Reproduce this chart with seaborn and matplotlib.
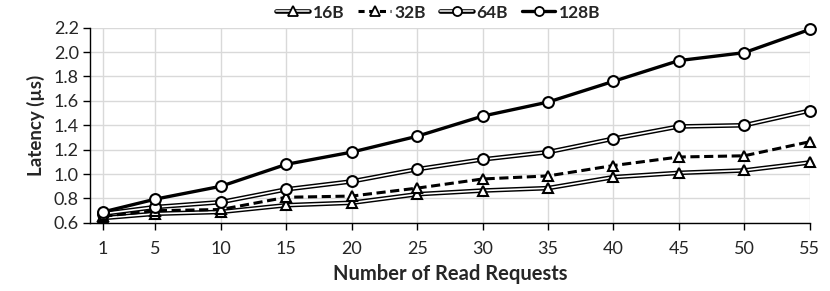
import matplotlib
matplotlib.use("Agg")
import matplotlib.pyplot as plt
import seaborn as sns
import pandas as pd
from matplotlib.lines import Line2D
from matplotlib.legend_handler import HandlerTuple

requests = [1, 5, 10, 15, 20, 25, 30, 35, 40, 45, 50, 55]
lat_16b = [0.64, 0.675, 0.69, 0.745, 0.765, 0.835, 0.865, 0.885, 0.975, 1.01, 1.03, 1.095]
lat_32b = [0.655, 0.70, 0.71, 0.81, 0.82, 0.885, 0.96, 0.985, 1.07, 1.14, 1.15, 1.265]
lat_64b = [0.675, 0.73, 0.77, 0.875, 0.94, 1.04, 1.12, 1.18, 1.29, 1.39, 1.40, 1.52]
lat_128b = [0.69, 0.795, 0.90, 1.08, 1.18, 1.31, 1.475, 1.59, 1.76, 1.93, 1.995, 2.185]
series_names = ["16B", "32B", "64B", "128B"]
xticks = [1, 5, 10, 15, 20, 25, 30, 35, 40, 45, 50, 55]
yticks = [0.6, 0.8, 1.0, 1.2, 1.4, 1.6, 1.8, 2.0, 2.2]

df = pd.DataFrame({
    "Requests": requests * 4,
    "Latency": lat_16b + lat_32b + lat_64b + lat_128b,
    "Size": sum([[n] * len(requests) for n in series_names], []),
})

sns.set_theme(style="white")
plt.rcParams["font.family"] = ["Lato", "DejaVu Sans"]

fig = plt.figure(figsize=(8.3, 2.91), dpi=100)
ax = fig.add_axes([0.1085, 0.234, 0.867, 0.671])

styles = {
    "16B": dict(marker="^", double=True, dashes=False, lw=1.0),
    "32B": dict(marker="^", double=False, dashes=True, lw=2.2),
    "64B": dict(marker="o", double=True, dashes=False, lw=1.0),
    "128B": dict(marker="o", double=False, dashes=False, lw=2.4),
}

MS = 7.8
handles = []
for name in series_names:
    st = styles[name]
    sub = df[df["Size"] == name]
    if st["double"]:
        sns.lineplot(data=sub, x="Requests", y="Latency", ax=ax, color="black",
                     lw=3.3, zorder=3)
        sns.lineplot(data=sub, x="Requests", y="Latency", ax=ax, color="white",
                     lw=1.2, zorder=3)
    else:
        sns.lineplot(data=sub, x="Requests", y="Latency", ax=ax, color="black",
                     lw=st["lw"], zorder=3)
        if st["dashes"]:
            ax.lines[-1].set_linestyle((0, (3, 1.5)))
    sns.lineplot(data=sub, x="Requests", y="Latency", ax=ax, color="black",
                 linestyle="none", marker=st["marker"], markersize=MS,
                 markerfacecolor="white", markeredgecolor="black",
                 markeredgewidth=1.5, zorder=4, clip_on=False)
    # legend handle
    mk = Line2D([], [], linestyle="none", marker=st["marker"], markersize=6.5,
                markerfacecolor="white", markeredgecolor="black", markeredgewidth=1.3)
    if st["double"]:
        h = (Line2D([], [], color="black", lw=3.3),
             Line2D([], [], color="white", lw=1.1), mk)
    else:
        h = (Line2D([], [], color="black", lw=st["lw"],
                    linestyle=(0, (2, 1.5)) if st["dashes"] else "-"), mk)
    handles.append(h)

ax.set_xlim(0, 55)
ax.set_ylim(0.6, 2.2)
ax.set_xticks(xticks)
ax.set_xticklabels([str(v) for v in xticks], fontsize=13)
ax.set_yticks(yticks)
ax.set_yticklabels([f"{v:.1f}" for v in yticks], fontsize=13)
ax.grid(True, color="#d9d9d9", lw=1.0)
ax.set_axisbelow(True)
for s in ["top", "right"]:
    ax.spines[s].set_visible(False)
for s in ["left", "bottom"]:
    ax.spines[s].set_color("black")
    ax.spines[s].set_linewidth(1.0)
ax.tick_params(axis="both", which="both", direction="out", length=5, width=1,
               color="black", left=True, bottom=True, pad=3)
ax.tick_params(axis="x", pad=8)
ax.set_xlabel("Number of Read Requests", fontsize=14.5, fontweight="bold", labelpad=5)
ax.set_ylabel("Latency (µs)", fontsize=13.5, fontweight="bold", labelpad=6)

if ax.get_legend() is not None:
    ax.get_legend().remove()
fig.legend(handles, series_names, loc="center", bbox_to_anchor=(0.528, 0.957), ncol=4,
           frameon=False, handlelength=1.9, handletextpad=0.2, columnspacing=0.8,
           handler_map={tuple: HandlerTuple(ndivide=1, pad=0)},
           prop={"weight": "bold", "size": 12.5})

fig.savefig("out.png", dpi=100)
